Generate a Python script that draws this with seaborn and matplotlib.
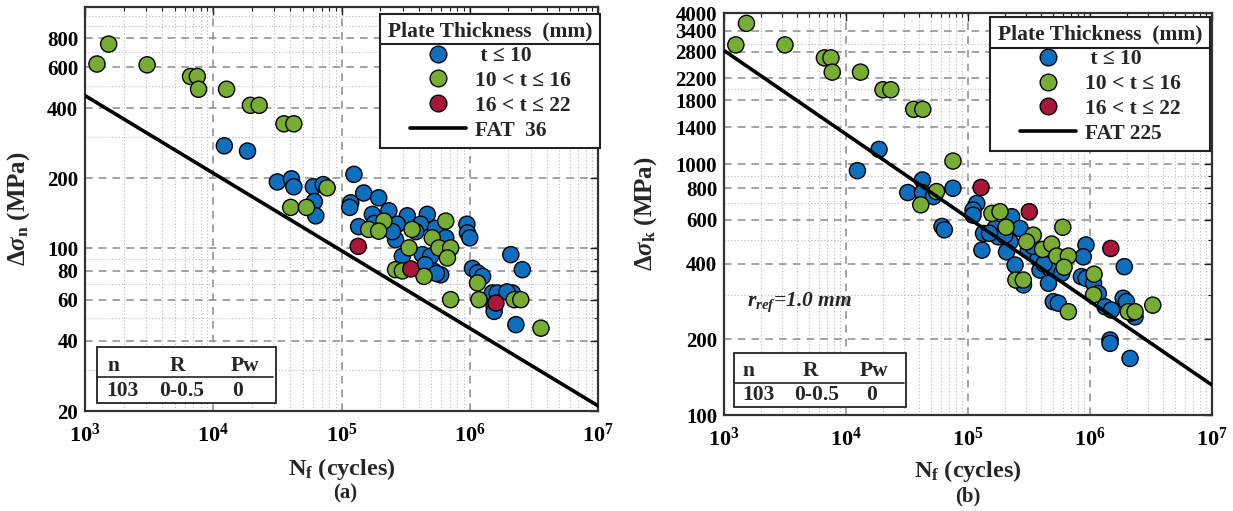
import numpy as np
import pandas as pd
import matplotlib
matplotlib.use("Agg")
import matplotlib.pyplot as plt
import seaborn as sns
from matplotlib.lines import Line2D
from matplotlib.patches import Rectangle
from matplotlib.ticker import FixedLocator, NullFormatter, LogLocator, FixedFormatter

# ---------------- data : panel (a) nominal stress ----------------
a_blue_N = [12200, 18500, 31600, 40700, 42500, 60300, 61400, 63000, 72000,
            1.25e5, 1.18e5, 1.16e5, 1.49e5, 1.95e5, 1.74e5, 2.34e5, 1.36e5, 3.26e5, 4.67e5,
            2.64e5, 2.72e5, 4.14e5, 5.42e5, 6.5e5, 2.98e5, 4.27e5, 4.95e5, 5.93e5, 5.25e5,
            9.5e5, 9.6e5, 1.0e6, 1.05e6, 1.15e6, 1.26e6, 1.5e6, 1.64e6, 1.55e6, 1.55e6,
            2.09e6, 2.57e6, 2.15e6, 2.29e6, 2.0e5, 3.8e5, 1.95e6, 2.5e5, 1.8e5, 4.5e5, 5.5e5]
a_blue_S = [276, 262, 193, 199, 184, 184, 159, 138, 188,
            208, 157, 150, 173, 165, 140, 145, 124, 138, 140,
            109, 127, 127, 122, 111, 92.5, 94, 92.5, 77, 79.7,
            127, 116.6, 111, 82, 78.5, 75.8, 64.3, 64.3, 56.3, 53.6,
            94, 81, 64.3, 47, 120, 118, 65, 118, 128, 85, 78]
a_green_N = [1240, 1530, 3050, 6650, 7510, 7680, 12700, 19500, 22800, 35600, 42500,
             40200, 53300, 77300, 1.63e5, 2.14e5, 1.95e5, 3.55e5, 6.5e5, 3.36e5, 5.1e5,
             5.75e5, 7.1e5, 6.7e5, 2.64e5, 2.98e5, 4.4e5, 7.1e5, 1.15e6, 1.18e6,
             2.22e6, 2.5e6, 3.59e6]
a_green_S = [620, 755, 615, 548, 548, 483, 483, 412, 412, 343, 343,
             150, 150, 182, 120.6, 131, 118.6, 120.6, 131, 100.5, 111,
             100.5, 100.5, 91, 81, 80, 75.8, 60.2, 71, 60.2,
             60.2, 60.2, 45.4]
a_red_N = [1.35e5, 3.47e5, 1.6e6]
a_red_S = [102, 81.6, 58.2]
a_fat_N = [1e3, 1e7]
a_fat_S = [453.6, 21.05]

# ---------------- data : panel (b) notch stress ----------------
b_blue_N = [12400, 18650, 32100, 42300, 42300, 52000, 75300, 61200, 64000,
            1.18e5, 1.1e5, 1.1e5, 1.34e5, 1.3e5, 2.28e5, 2.67e5, 1.66e5, 1.77e5, 2.21e5,
            2.07e5, 3.12e5, 3.77e5, 2.43e5, 3.89e5, 4.7e5, 5.86e5, 4.57e5, 2.85e5, 5.0e5,
            5.5e5, 9.27e5, 8.8e5, 8.5e5, 9.3e5, 1.07e6, 1.17e6, 1.33e6, 1.5e6, 1.91e6,
            1.87e6, 1.99e6, 2.34e6, 1.46e6, 1.46e6, 2.13e6, 2.0e5, 3.4e5, 4.2e5, 1.5e5, 2.2e6]
b_blue_S = [941, 1144, 770, 864, 770, 742, 801, 564, 547,
            697, 656, 626, 529, 454, 617, 554, 554, 513, 490,
            447, 454, 421, 396, 378, 384, 367, 335, 330, 283,
            279, 476, 427, 356, 350, 335, 305, 270, 262, 390,
            292, 283, 246, 199, 193, 168, 520, 470, 400, 530, 255]
b_green_N = [1250, 1528, 3160, 6650, 7530, 7710, 13150, 20100, 23300, 35900, 42600,
             75300, 41000, 55200, 1.57e5, 1.83e5, 2.05e5, 3.43e5, 3.02e5, 4.09e5, 4.85e5,
             5.34e5, 6.65e5, 6.13e5, 5.98e5, 2.47e5, 2.84e5, 6.65e5, 1.08e6, 1.07e6,
             2.06e6, 2.34e6, 3.27e6]
b_green_S = [2985, 3638, 2985, 2650, 2650, 2325, 2325, 1978, 1978, 1653, 1653,
             1028, 688, 777, 636, 646, 560, 521, 490, 457, 480,
             430, 430, 388, 560, 345, 345, 258, 364, 301,
             258, 258, 274]
b_red_N = [1.28e5, 3.18e5, 1.48e6]
b_red_S = [807, 646, 461]
b_fat_N = [1e3, 1e7]
b_fat_S = [2835, 131.6]

groups = ["t ≤ 10", "10 < t ≤ 16", "16 < t ≤ 22"]
legend_labels = [" t ≤ 10", "10 < t ≤ 16", "16 < t ≤ 22"]
colors = ["#0f6fbf", "#77ad32", "#a8163a"]

a_yticks = [20, 40, 60, 80, 100, 200, 400, 600, 800]
a_yminor = [30, 50, 70, 90, 300, 500, 700, 900, 1000]
b_yticks = [100, 200, 400, 600, 800, 1000, 1400, 1800, 2200, 2800, 3400, 4000]
b_yminor = [300, 500, 700, 900, 2000, 3000]
xticks = [1e3, 1e4, 1e5, 1e6, 1e7]
xticklabels = [r"$10^{3}$", r"$10^{4}$", r"$10^{5}$", r"$10^{6}$", r"$10^{7}$"]

# ---------------- style ----------------
sns.set_theme(style="white")
plt.rcParams["font.family"] = ["Liberation Serif", "DejaVu Serif"]
plt.rcParams["font.weight"] = "bold"
plt.rcParams["mathtext.fontset"] = "custom"
plt.rcParams["mathtext.rm"] = "Liberation Serif:bold"
plt.rcParams["mathtext.bf"] = "Liberation Serif:bold"
plt.rcParams["mathtext.it"] = "Liberation Serif:italic:bold"
plt.rcParams["axes.unicode_minus"] = False

fig = plt.figure(figsize=(12.33, 5.11), dpi=100)
axA = fig.add_axes([85 / 1233, (511 - 411) / 511, 513 / 1233, 404 / 511])
axB = fig.add_axes([724 / 1233, (511 - 415) / 511, 488 / 1233, 402 / 511])


def frame(n1, s1, n2, s2, n3, s3):
    return pd.DataFrame({
        "N": list(n1) + list(n2) + list(n3),
        "S": list(s1) + list(s2) + list(s3),
        "group": [groups[0]] * len(n1) + [groups[1]] * len(n2) + [groups[2]] * len(n3),
    })


dfA = frame(a_blue_N, a_blue_S, a_green_N, a_green_S, a_red_N, a_red_S)
dfB = frame(b_blue_N, b_blue_S, b_green_N, b_green_S, b_red_N, b_red_S)


def draw(ax, df, fatN, fatS, ylim, yticks, yminor, fatlabel, leganchor):
    ax.set_xscale("log")
    ax.set_yscale("log")
    ax.set_axisbelow(True)
    sns.scatterplot(data=df, x="N", y="S", hue="group", hue_order=groups,
                    palette=colors, s=135, edgecolor="black", linewidth=1.0,
                    legend=False, ax=ax, zorder=3)
    ax.plot(fatN, fatS, color="black", lw=2.6, zorder=4)
    ax.set_xlim(1e3, 1e7)
    ax.set_ylim(*ylim)
    ax.xaxis.set_major_locator(FixedLocator(xticks))
    ax.xaxis.set_major_formatter(FixedFormatter(xticklabels))
    ax.xaxis.set_minor_locator(LogLocator(base=10, subs=np.arange(2, 10)))
    ax.xaxis.set_minor_formatter(NullFormatter())
    ax.yaxis.set_major_locator(FixedLocator(yticks))
    ax.yaxis.set_major_formatter(FixedFormatter([str(v) for v in yticks]))
    ax.yaxis.set_minor_locator(FixedLocator(yminor))
    ax.yaxis.set_minor_formatter(NullFormatter())
    ax.grid(which="major", ls=(0, (5, 4)), color="#8a8a8a", lw=1.1)
    ax.grid(which="minor", ls=(0, (1, 2)), color="#b8b8b8", lw=0.8)
    ax.tick_params(which="both", direction="in", top=True, right=True, colors="#222222")
    ax.tick_params(which="major", length=6, width=1.0)
    ax.tick_params(which="minor", length=3, width=0.8)
    ax.tick_params(axis="x", which="major", labelsize=16, pad=9)
    ax.tick_params(axis="y", which="major", labelsize=15, pad=5)
    for lab in ax.get_xticklabels() + ax.get_yticklabels():
        lab.set_fontweight("bold")
        lab.set_color("black")
    for sp in ax.spines.values():
        sp.set_color("#333333")
        sp.set_linewidth(1.6)
    ax.set_xlabel(r"N$_{\mathrm{f}}$ (cycles)", fontsize=17.5, fontweight="bold")
    handles = [Line2D([], [], marker="o", ls="none", markerfacecolor=c,
                      markeredgecolor="black", markeredgewidth=1.0, markersize=12)
               for c in colors]
    handles.append(Line2D([], [], color="black", lw=2.6))
    leg = ax.legend(handles, legend_labels + [fatlabel], title="Plate Thickness  (mm)",
                    loc="upper right", bbox_to_anchor=leganchor, frameon=True,
                    fancybox=False, framealpha=1, edgecolor="#222222",
                    prop=dict(family="Liberation Serif", weight="bold", size=15.5),
                    title_fontproperties=dict(family="Liberation Serif", weight="bold", size=15.5),
                    handlelength=2.6, handletextpad=0.4, labelspacing=0.22,
                    borderpad=0.35, alignment="center", borderaxespad=0)
    leg.get_frame().set_linewidth(1.5)
    leg.set_zorder(10)
    return leg


legA = draw(axA, dfA, a_fat_N, a_fat_S, (20, 1090), a_yticks, a_yminor, "FAT  36", (1.004, 0.983))
legB = draw(axB, dfB, b_fat_N, b_fat_S, (100, 4000), b_yticks, b_yminor, "FAT 225", (0.996, 0.99))

axA.set_ylabel(r"$\Delta\sigma_{\mathrm{n}}$ (MPa)", fontsize=18, fontweight="bold")
axB.set_ylabel(r"$\Delta\sigma_{\mathrm{k}}$ (MPa)", fontsize=18, fontweight="bold")
axA.yaxis.set_label_coords(-0.103, 0.5)
axB.yaxis.set_label_coords(-0.133, 0.5)
axA.xaxis.set_label_coords(0.5, -0.112)
axB.xaxis.set_label_coords(0.5, -0.107)
fig.text(345 / 1233, 1 - 493 / 511, "(a)", ha="center", va="center", fontsize=15, fontweight="bold")
fig.text(968 / 1233, 1 - 496 / 511, "(b)", ha="center", va="center", fontsize=15, fontweight="bold")

# r_ref annotation
axB.text(0.047, 0.28, r"$r_{ref}$=1.0 mm", transform=axB.transAxes, fontsize=15.5,
         fontstyle="italic", fontweight="bold", ha="left", va="center", zorder=6)


def stats_box(ax, X0, X1, Y0, Y1, Yline, Yh, Yv, hx, vx, px0, py0, pw, ph):
    def fx(X):
        return (X - px0) / pw

    def fy(Y):
        return (py0 - Y) / ph

    ax.add_patch(Rectangle((fx(X0), fy(Y1)), fx(X1) - fx(X0), fy(Y0) - fy(Y1),
                           transform=ax.transAxes, facecolor="white", edgecolor="#222222",
                           lw=1.3, zorder=6))
    ax.add_line(Line2D([fx(X0), fx(X1) - 0.005], [fy(Yline), fy(Yline)],
                       transform=ax.transAxes, color="#222222", lw=1.2, zorder=7))
    for t, x in zip(["n", "R", "Pw"], hx):
        ax.text(fx(x), fy(Yh), t, transform=ax.transAxes, ha="center", va="center",
                fontsize=15.5, fontweight="bold", zorder=8)
    for t, x in zip(["103", "0-0.5", "0"], vx):
        ax.text(fx(x), fy(Yv), t, transform=ax.transAxes, ha="center", va="center",
                fontsize=15.5, fontweight="bold", zorder=8)


stats_box(axA, 97, 276, 347, 403, 377, 366, 391, [113, 177, 245], [122, 182, 238], 85, 411, 513, 404)
stats_box(axB, 734, 906, 353, 407, 383, 371, 395, [748, 810, 874], [758, 817, 872], 724, 415, 488, 402)

# separator line under legend titles
fig.canvas.draw()
r = fig.canvas.get_renderer()
W, H = fig.bbox.width, fig.bbox.height
for leg in (legA, legB):
    fb = leg.get_frame().get_window_extent(r)
    tb = leg.get_title().get_window_extent(r)
    y = tb.y0 - 3
    fig.add_artist(Line2D([fb.x0 / W, fb.x1 / W], [y / H, y / H], transform=fig.transFigure,
                          color="#222222", lw=1.5, zorder=20))

fig.savefig("out.png", dpi=100)
